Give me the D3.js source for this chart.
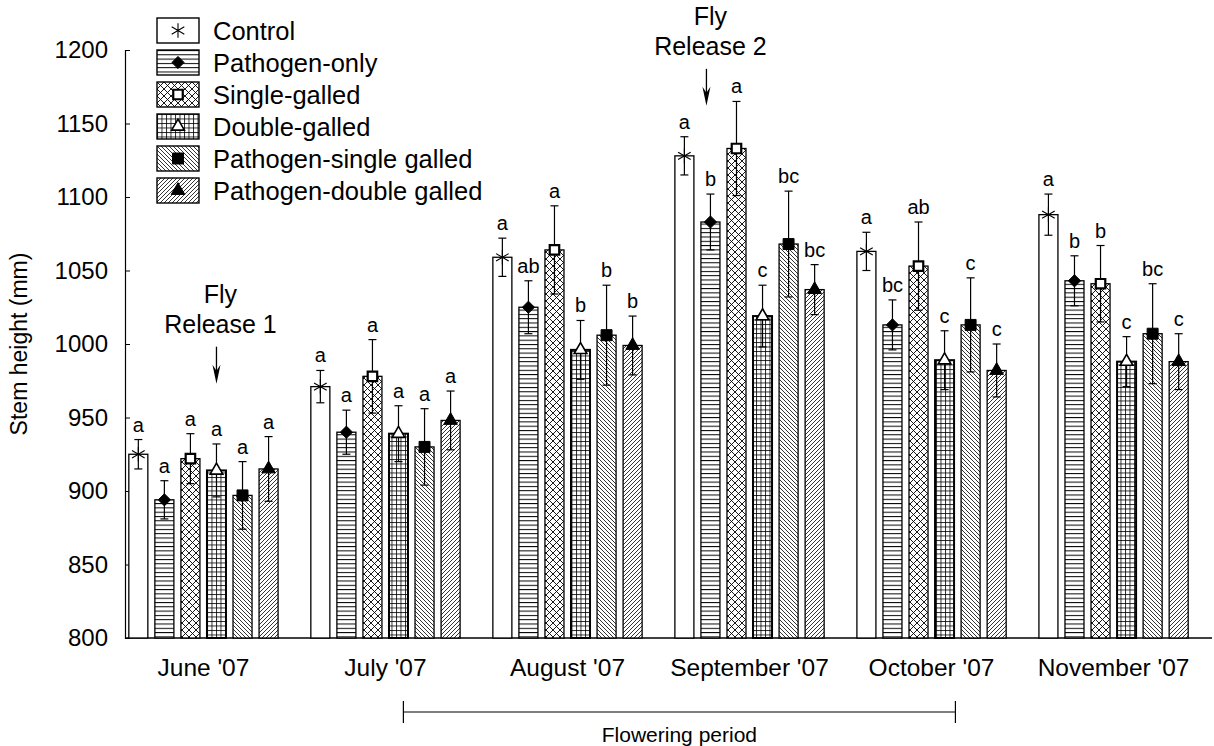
<!DOCTYPE html>
<html>
<head>
<meta charset="utf-8">
<script src="https://cdn.jsdelivr.net/npm/d3@7"></script>
<style>
  body { margin: 0; background: #fff; }
  svg { font-family: Arial, "Liberation Sans", sans-serif; }
</style>
</head>
<body>
<svg></svg>
<script>
var width = 1214;
var height = 746;

// ---- data ----
var months = ["June '07", "July '07", "August '07", "September '07", "October '07", "November '07"];
var treatments = ["Control", "Pathogen-only", "Single-galled", "Double-galled",
                  "Pathogen-single galled", "Pathogen-double galled"];

var controlMean  = [925, 971, 1059, 1128, 1063, 1088];
var pathOnlyMean = [894, 940, 1025, 1083, 1013, 1043];
var singleMean   = [922, 978, 1064, 1133, 1053, 1041];
var doubleMean   = [914, 939, 996, 1019, 989, 988];
var pathSingleMean = [897, 930, 1006, 1068, 1013, 1007];
var pathDoubleMean = [915, 948, 999, 1037, 982, 988];

var controlErr  = [10, 11, 13, 13, 13, 14];
var pathOnlyErr = [13, 15, 18, 19, 17, 17];
var singleErr   = [17, 25, 30, 32, 30, 26];
var doubleErr   = [18, 19, 20, 21, 20, 17];
var pathSingleErr = [23, 26, 34, 36, 32, 34];
var pathDoubleErr = [22, 20, 20, 17, 18, 19];

var controlSig  = ["a", "a", "a", "a", "a", "a"];
var pathOnlySig = ["a", "a", "ab", "b", "bc", "b"];
var singleSig   = ["a", "a", "a", "a", "ab", "b"];
var doubleSig   = ["a", "a", "b", "c", "c", "c"];
var pathSingleSig = ["a", "a", "b", "bc", "c", "bc"];
var pathDoubleSig = ["a", "a", "b", "bc", "c", "c"];

var yTicks = [800, 850, 900, 950, 1000, 1050, 1100, 1150, 1200];

var releases = [
  { month: "June '07", anchor: "Double-galled", tip: 973, lines: ["Fly", "Release 1"] },
  { month: "September '07", anchor: "Pathogen-only", tip: 1162, lines: ["Fly", "Release 2"] }
];
var flowering = { from: "July '07", to: "October '07", label: "Flowering period" };

var means = [controlMean, pathOnlyMean, singleMean, doubleMean, pathSingleMean, pathDoubleMean];
var errs = [controlErr, pathOnlyErr, singleErr, doubleErr, pathSingleErr, pathDoubleErr];
var sigs = [controlSig, pathOnlySig, singleSig, doubleSig, pathSingleSig, pathDoubleSig];

var fills = ["#fff", "url(#hlines)", "url(#xhatch)", "url(#grid)", "url(#bdiag)", "url(#fdiag)"];
var symbols = [
  { type: d3.symbolAsterisk, size: 150, fill: "none", sw: 1.1 },
  { type: d3.symbolDiamond2, size: 95, fill: "#000", sw: 1 },
  { type: d3.symbolSquare, size: 90, fill: "#fff", sw: 2.2 },
  { type: d3.symbolTriangle, size: 70, fill: "#fff", sw: 1.6 },
  { type: d3.symbolSquare, size: 120, fill: "#000", sw: 1 },
  { type: d3.symbolTriangle, size: 80, fill: "#000", sw: 1 }
];

var rows = [];
months.forEach(function(m, i) {
  treatments.forEach(function(t, j) {
    rows.push({ month: m, treatment: t, k: j, mean: means[j][i], err: errs[j][i], sig: sigs[j][i] });
  });
});

// ---- scales ----
var plotLeft = 125, plotRight = 1212;
var x = d3.scaleBand().domain(months).range([127, 1190]).paddingInner(0.18).paddingOuter(0.01);
var xInner = d3.scaleBand().domain(treatments).range([0, x.bandwidth()]).paddingInner(0.27).paddingOuter(0);
var y = d3.scaleLinear().domain([800, 1200]).range([638, 50]);

var svg = d3.select("svg").attr("width", width).attr("height", height);

// ---- fill patterns ----
var defs = svg.append("defs");
function pattern(id, w, h, d, sw) {
  defs.append("pattern")
      .attr("id", id)
      .attr("patternUnits", "userSpaceOnUse")
      .attr("width", w).attr("height", h)
    .call(function(p) {
      p.append("rect").attr("width", w).attr("height", h).attr("fill", "#fff");
      p.append("path").attr("d", d).attr("stroke", "#000").attr("stroke-width", sw).attr("fill", "none");
    });
}
pattern("hlines", 4, 4.3, "M0,0.5H4", 1);
pattern("xhatch", 7, 7, "M0,0L7,7M7,0L0,7", 0.9);
pattern("grid", 4.5, 4.5, "M0,0.5H4.5M0.5,0V4.5", 0.8);
pattern("bdiag", 4, 4, "M0,0L4,4M-1,3L1,5M3,-1L5,1", 0.8);
pattern("fdiag", 4, 4, "M0,4L4,0M-1,1L1,-1M3,5L5,3", 0.8);

// ---- axes ----
svg.append("g")
    .attr("transform", `translate(${plotLeft},0)`)
    .call(d3.axisLeft(y).tickValues(yTicks).tickFormat(d3.format("d")).tickSize(-5).tickPadding(17))
    .attr("font-family", null)
    .call(g => g.selectAll("text").attr("font-size", 24).attr("fill", "#000"))
    .call(g => g.select(".domain").attr("stroke-width", 1.2));

svg.append("g")
    .attr("transform", "translate(0,638)")
    .call(d3.axisBottom(x).tickSize(0).tickPadding(21))
    .attr("font-family", null)
    .call(g => g.select(".domain").remove())
    .call(g => g.selectAll("text").attr("font-size", 24.5).attr("fill", "#000"));

svg.append("line")
    .attr("x1", plotLeft).attr("x2", plotRight)
    .attr("y1", y(800)).attr("y2", y(800))
    .attr("stroke", "#000").attr("stroke-width", 1.6);

svg.append("text")
    .attr("transform", `translate(27,${y(1000)}) rotate(-90)`)
    .attr("text-anchor", "middle")
    .attr("font-size", 23)
    .text("Stem height (mm)");

// ---- bars ----
function bx(d) { return x(d.month) + xInner(d.treatment); }
function cx(d) { return bx(d) + xInner.bandwidth() / 2; }

svg.append("g")
  .selectAll("rect")
  .data(rows)
  .join("rect")
    .attr("x", bx)
    .attr("y", d => y(d.mean))
    .attr("width", xInner.bandwidth())
    .attr("height", d => y(800) - y(d.mean))
    .attr("fill", d => fills[d.k])
    .attr("stroke", "#000")
    .attr("stroke-width", d => d.k === 3 ? 2 : 1.3);

// error bars
var eb = svg.append("g").attr("stroke", "#000").attr("stroke-width", 1.2);
eb.selectAll(".stem")
  .data(rows)
  .join("line")
    .attr("x1", cx).attr("x2", cx)
    .attr("y1", d => y(d.mean - d.err))
    .attr("y2", d => y(d.mean + d.err));
eb.selectAll(".capTop")
  .data(rows)
  .join("line")
    .attr("x1", d => cx(d) - 4).attr("x2", d => cx(d) + 4)
    .attr("y1", d => y(d.mean + d.err)).attr("y2", d => y(d.mean + d.err));
eb.selectAll(".capBottom")
  .data(rows)
  .join("line")
    .attr("x1", d => cx(d) - 4).attr("x2", d => cx(d) + 4)
    .attr("y1", d => y(d.mean - d.err)).attr("y2", d => y(d.mean - d.err));

// markers
function symbolPath(k) { return d3.symbol().type(symbols[k].type).size(symbols[k].size)(); }
svg.append("g")
  .selectAll("path")
  .data(rows)
  .join("path")
    .attr("transform", d => `translate(${cx(d)},${y(d.mean)})`)
    .attr("d", d => symbolPath(d.k))
    .attr("fill", d => symbols[d.k].fill)
    .attr("stroke", "#000")
    .attr("stroke-width", d => symbols[d.k].sw);

// significance letters
svg.append("g")
  .selectAll("text")
  .data(rows)
  .join("text")
    .attr("x", cx)
    .attr("y", d => y(d.mean + d.err) - 8)
    .attr("text-anchor", "middle")
    .attr("font-size", 20)
    .text(d => d.sig);

// ---- fly release annotations ----
releases.forEach(function(r) {
  var ax = x(r.month) + xInner(r.anchor) + xInner.bandwidth() / 2 - (r.anchor === "Pathogen-only" ? 4 : 0);
  var tip = y(r.tip);
  var top = tip - 37;
  var g = svg.append("g");
  g.append("line").attr("x1", ax).attr("x2", ax).attr("y1", top).attr("y2", tip - 10)
      .attr("stroke", "#000").attr("stroke-width", 1.3);
  g.append("path")
      .attr("d", `M${ax},${tip}L${ax - 4},${tip - 19}L${ax},${tip - 13}L${ax + 4},${tip - 19}Z`)
      .attr("fill", "#000");
  g.append("text").attr("x", ax + 4).attr("y", top - 14).attr("text-anchor", "middle")
      .attr("font-size", 25).text(r.lines[1]);
  g.append("text").attr("x", ax + 4).attr("y", top - 44).attr("text-anchor", "middle")
      .attr("font-size", 25).text(r.lines[0]);
});

// ---- flowering period bracket ----
var fx1 = x(flowering.from) + x.bandwidth() * 0.62;
var fx2 = x(flowering.to) + x.bandwidth() * 0.66;
var fy = 712;
var fb = svg.append("g").attr("stroke", "#000").attr("stroke-width", 1.2);
fb.append("line").attr("x1", fx1).attr("x2", fx2).attr("y1", fy).attr("y2", fy);
fb.append("line").attr("x1", fx1).attr("x2", fx1).attr("y1", fy - 11).attr("y2", fy + 11);
fb.append("line").attr("x1", fx2).attr("x2", fx2).attr("y1", fy - 11).attr("y2", fy + 11);
svg.append("text")
    .attr("x", (fx1 + fx2) / 2).attr("y", 742)
    .attr("text-anchor", "middle")
    .attr("font-size", 21)
    .text(flowering.label);

// ---- legend ----
var legend = svg.append("g")
  .selectAll("g")
  .data(treatments)
  .join("g")
    .attr("transform", (d, i) => `translate(157,${18 + i * 32})`);

legend.append("rect")
    .attr("width", 42).attr("height", 25)
    .attr("fill", (d, i) => fills[i])
    .attr("stroke", "#000")
    .attr("stroke-width", 1.4);

legend.append("path")
    .attr("transform", "translate(21,12.5)")
    .attr("d", (d, i) => symbolPath(i))
    .attr("fill", (d, i) => symbols[i].fill)
    .attr("stroke", "#000")
    .attr("stroke-width", (d, i) => symbols[i].sw);

legend.append("text")
    .attr("x", 56).attr("y", 22)
    .attr("font-size", 25.5)
    .text(d => d);
</script>
</body>
</html>
